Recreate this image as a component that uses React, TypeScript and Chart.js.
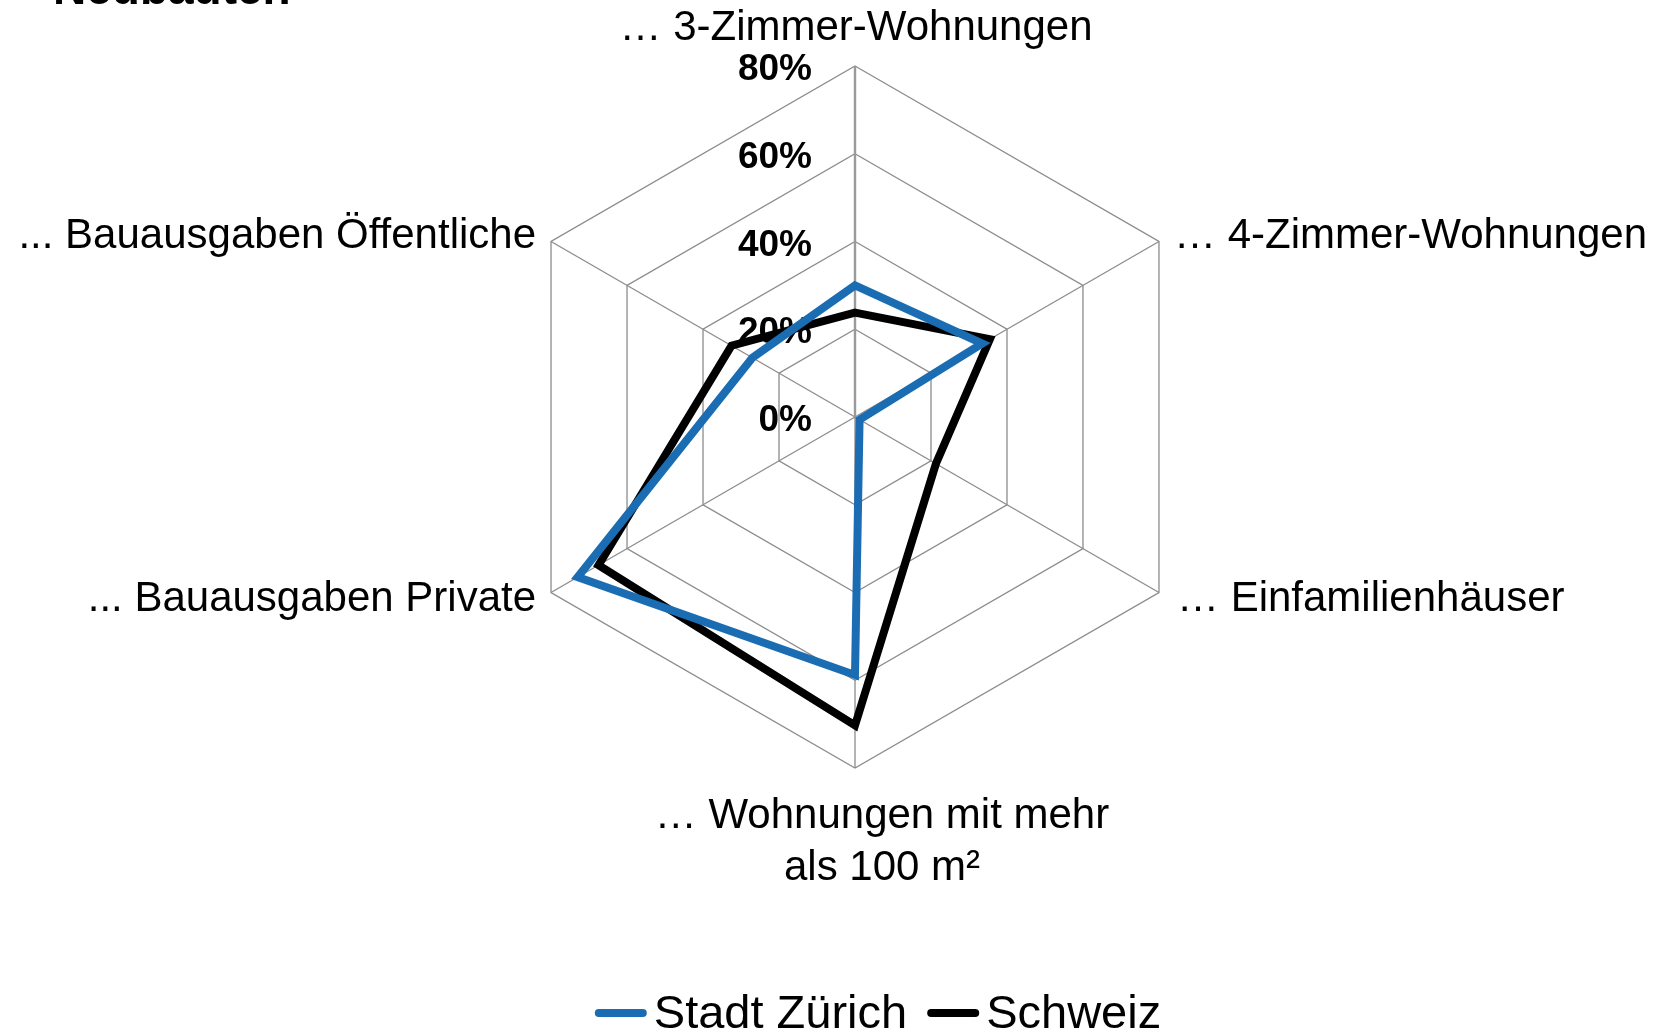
import React, { useEffect, useRef } from 'react';
import { Chart, registerables } from 'chart.js';

Chart.register(...registerables);

const CATEGORIES: (string | string[])[] = [
  '… 3-Zimmer-Wohnungen',
  '… 4-Zimmer-Wohnungen',
  '… Einfamilienhäuser',
  ['… Wohnungen mit mehr', 'als 100 m²'],
  '... Bauausgaben Private',
  '... Bauausgaben Öffentliche',
];

const ZURICH = [30, 33.5, 1.2, 58.8, 73, 27];
const SCHWEIZ = [23.8, 35.5, 21.3, 70.3, 67.5, 32.5];

const SERIES_NAMES = ['Stadt Zürich', 'Schweiz'];
const SERIES_COLORS = ['#1A6DB2', '#000000'];

const TICK_VALUES = [0, 20, 40, 60, 80];
const SCALE_MAX = 80;
const TITLE_TEXT = 'Neubauten';

const FONT = '"Liberation Sans", Arial, sans-serif';

// label offsets relative to the outer polygon vertex (style, not data)
const LABEL_LAYOUT: { dx: number; dy: number; align: CanvasTextAlign }[] = [
  { dx: 1, dy: -38, align: 'center' },
  { dx: 15, dy: -5, align: 'left' },
  { dx: 18, dy: 7, align: 'left' },
  { dx: 27, dy: 48, align: 'center' },
  { dx: -15, dy: 7, align: 'right' },
  { dx: -15, dy: -5, align: 'right' },
];
const LABEL_LINE_H = 52;

const overlayPlugin = {
  id: 'overlay',
  beforeDatasetsDraw(chart: any) {
    const r = chart.scales.r;
    const ctx: CanvasRenderingContext2D = chart.ctx;
    ctx.save();
    ctx.fillStyle = '#000';
    ctx.textBaseline = 'middle';
    // value ticks
    ctx.font = `bold 37px ${FONT}`;
    ctx.textAlign = 'right';
    TICK_VALUES.forEach((v) => {
      const p = r.getPointPositionForValue(0, v);
      ctx.fillText(`${v}%`, r.xCenter - 43, p.y + 4);
    });
    // category labels
    ctx.font = `42px ${FONT}`;
    (chart.data.labels as (string | string[])[]).forEach((lab, i) => {
      const p = r.getPointPositionForValue(i, SCALE_MAX);
      const L = LABEL_LAYOUT[i];
      const lines = Array.isArray(lab) ? lab : [lab];
      ctx.textAlign = L.align;
      lines.forEach((t, j) => ctx.fillText(t, p.x + L.dx, p.y + L.dy + j * LABEL_LINE_H));
    });
    ctx.restore();
  },
  afterDraw(chart: any) {
    const ctx: CanvasRenderingContext2D = chart.ctx;
    ctx.save();
    // clipped title at the very top
    ctx.fillStyle = '#000';
    ctx.font = `bold 46px ${FONT}`;
    ctx.textAlign = 'left';
    ctx.textBaseline = 'alphabetic';
    ctx.fillText(TITLE_TEXT, 53, 4);

    // legend
    ctx.font = `47px ${FONT}`;
    ctx.textBaseline = 'middle';
    const lineLen = 52;
    const gap = 7;
    const itemGap = 20;
    const ds = chart.data.datasets;
    const widths = ds.map((d: any) => lineLen + gap + ctx.measureText(d.label).width);
    const total = widths.reduce((a: number, b: number) => a + b, 0) + itemGap * (ds.length - 1);
    let x = 878 - total / 2;
    const y = 1013;
    ds.forEach((d: any, i: number) => {
      ctx.strokeStyle = d.borderColor;
      ctx.lineWidth = 8;
      ctx.lineCap = 'round';
      ctx.beginPath();
      ctx.moveTo(x + 4, y);
      ctx.lineTo(x + lineLen - 4, y);
      ctx.stroke();
      ctx.fillStyle = '#000';
      ctx.textAlign = 'left';
      ctx.fillText(d.label, x + lineLen + gap, y + 2);
      x += widths[i] + itemGap;
    });
    ctx.restore();
  },
};

export default function App() {
  const ref = useRef<HTMLCanvasElement>(null);
  useEffect(() => {
    if (!ref.current) return;
    const chart = new Chart(ref.current, {
      type: 'radar',
      data: {
        labels: CATEGORIES as any,
        datasets: [ZURICH, SCHWEIZ].map((vals, i) => ({
          label: SERIES_NAMES[i],
          data: vals,
          borderColor: SERIES_COLORS[i],
          backgroundColor: SERIES_COLORS[i],
          borderWidth: 8,
          borderJoinStyle: 'miter' as const,
          fill: false,
          pointRadius: 0,
          pointHoverRadius: 0,
          tension: 0,
        })),
      },
      options: {
        responsive: false,
        animation: false,
        devicePixelRatio: 1,
        layout: { padding: { left: 504, right: 457, top: 66, bottom: 266 } },
        plugins: {
          legend: { display: false },
          tooltip: { enabled: false },
          title: { display: false },
        },
        scales: {
          r: {
            min: 0,
            max: SCALE_MAX,
            ticks: { stepSize: 20, display: false },
            pointLabels: { display: false },
            grid: { color: '#8C8C8C', lineWidth: 1.3 },
            angleLines: {
              color: (c: any) => (c.index === 0 ? '#9A9A9A' : '#8C8C8C'),
              lineWidth: (c: any) => (c.index === 0 ? 2.4 : 1.3),
            },
          },
        },
      },
      plugins: [overlayPlugin],
    });
    return () => chart.destroy();
  }, []);
  return (
    <div style={{ position: 'absolute', left: 0, top: 0, width: 1663, height: 1034, background: '#fff' }}>
      <canvas ref={ref} width={1663} height={1034} style={{ display: 'block' }} />
    </div>
  );
}
